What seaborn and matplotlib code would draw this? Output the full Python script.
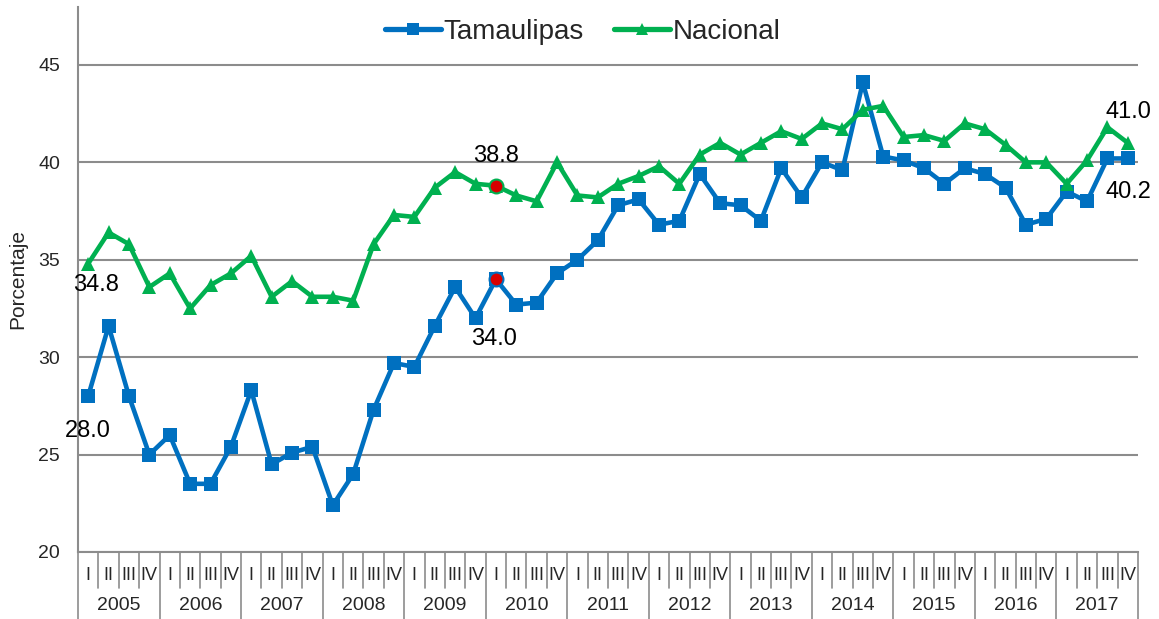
import matplotlib
matplotlib.use("Agg")
import matplotlib.pyplot as plt
import matplotlib.transforms as mtransforms
from matplotlib.lines import Line2D
import seaborn as sns
import pandas as pd
import numpy as np

# data
years = ["2005", "2006", "2007", "2008", "2009", "2010", "2011",
         "2012", "2013", "2014", "2015", "2016", "2017"]
quarters = ["I", "II", "III", "IV"]

tamaulipas = [28.0, 31.6, 28.0, 25.0, 26.0, 23.5, 23.5, 25.4,
              28.3, 24.5, 25.1, 25.4, 22.4, 24.0, 27.3, 29.7,
              29.5, 31.6, 33.6, 32.0, 34.0, 32.7, 32.8, 34.3,
              35.0, 36.0, 37.8, 38.1, 36.8, 37.0, 39.4, 37.9,
              37.8, 37.0, 39.7, 38.2, 40.0, 39.6, 44.1, 40.3,
              40.1, 39.7, 38.9, 39.7, 39.4, 38.7, 36.8, 37.1,
              38.5, 38.0, 40.2, 40.2]
nacional = [34.8, 36.4, 35.8, 33.6, 34.3, 32.5, 33.7, 34.3,
            35.2, 33.1, 33.9, 33.1, 33.1, 32.9, 35.8, 37.3,
            37.2, 38.7, 39.5, 38.9, 38.8, 38.3, 38.0, 40.0,
            38.3, 38.2, 38.9, 39.3, 39.8, 38.9, 40.4, 41.0,
            40.4, 41.0, 41.6, 41.2, 42.0, 41.7, 42.7, 42.9,
            41.3, 41.4, 41.1, 42.0, 41.7, 40.9, 40.0, 40.0,
            38.9, 40.1, 41.8, 41.0]

n = len(tamaulipas)
idx = np.arange(n)
df = pd.DataFrame({
    "idx": np.concatenate([idx, idx]),
    "valor": tamaulipas + nacional,
    "serie": ["Tamaulipas"] * n + ["Nacional"] * n,
})

blue = "#0070C0"
green = "#00B050"
grid_c = "#8C8C8C"

sns.set_style("white")
plt.rcParams["font.family"] = ["Liberation Sans", "DejaVu Sans"]

fig = plt.figure(figsize=(11.59, 6.19), dpi=100)
ax = fig.add_axes([78 / 1159, 1 - 552 / 619, 1060 / 1159, 545.5 / 619])

sns.lineplot(data=df, x="idx", y="valor", hue="serie", style="serie",
             palette={"Tamaulipas": blue, "Nacional": green},
             markers={"Tamaulipas": "s", "Nacional": "^"}, dashes=False,
             markersize=10, markeredgewidth=0, linewidth=3.3, ax=ax,
             legend=False)

# highlighted points
ax.plot(20, tamaulipas[20], "o", ms=10, mfc="#D80000", mec=blue, mew=1.5, zorder=5)
ax.plot(20, nacional[20], "o", ms=10, mfc="#D80000", mec=green, mew=1.5, zorder=5)

# data labels
labels = [
    (0, nacional[0], (8, -21)),
    (0, tamaulipas[0], (0, -35)),
    (20, nacional[20], (0, 30)),
    (20, tamaulipas[20], (-2, -60)),
    (51, nacional[51], (1, 31)),
    (51, tamaulipas[51], (1, -34)),
]
for x, v, off in labels:
    ax.annotate(f"{v:.1f}", (x, v), xytext=off, textcoords="offset pixels",
                ha="center", va="center", fontsize=17, color="black")

ax.set_xlim(-0.5, n - 0.5)
ax.set_ylim(20, 48)
ax.set_yticks([20, 25, 30, 35, 40, 45])
ax.tick_params(axis="y", labelsize=14, length=4, color=grid_c, width=1.5, pad=9)
ax.set_xticks([])
ax.set_xlabel("")
ax.set_ylabel("Porcentaje", fontsize=15, labelpad=8)
ax.yaxis.grid(True, color=grid_c, linewidth=1.5)
ax.set_axisbelow(True)
for s in ["top", "right"]:
    ax.spines[s].set_visible(False)
for s in ["left", "bottom"]:
    ax.spines[s].set_color(grid_c)
    ax.spines[s].set_linewidth(1.5)

# two-level category axis
trans = mtransforms.blended_transform_factory(ax.transData, ax.transAxes)
ax_h = 545.5
for i in range(n):
    ax.text(i, -23 / ax_h, quarters[i % 4], transform=trans,
            ha="center", va="center", fontsize=13)
for k, y in enumerate(years):
    ax.text(4 * k + 1.5, -54 / ax_h, y, transform=trans,
            ha="center", va="center", fontsize=14)
for b in range(n + 1):
    low = -70 / ax_h if b % 4 == 0 else -36 / ax_h
    ax.add_line(Line2D([b - 0.5, b - 0.5], [0, low], transform=trans,
                       color=grid_c, linewidth=1.2, clip_on=False))

handles = [
    Line2D([], [], color=blue, marker="s", ms=9, mew=0, lw=3.8),
    Line2D([], [], color=green, marker="^", ms=9, mew=0, lw=3.8),
]
fig.legend(handles, ["Tamaulipas", "Nacional"], loc="center",
           bbox_to_anchor=(583 / 1159, 1 - 32 / 619), ncol=2, frameon=False,
           fontsize=20, handlelength=2.0, handletextpad=0.1, columnspacing=1.1)

fig.savefig("out.png", dpi=100)
